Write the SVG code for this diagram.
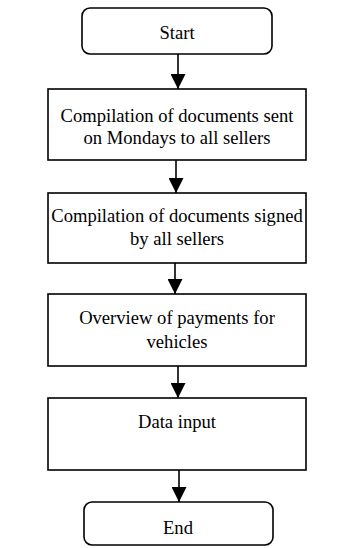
<svg xmlns="http://www.w3.org/2000/svg" width="339" height="548" viewBox="0 0 339 548">
  <style>
    .box { fill: #ffffff; stroke: #000000; stroke-width: 1.6; }
    .term { fill: #ffffff; stroke: #000000; stroke-width: 1.6; }
    .lbl { font-family: 'Liberation Serif', 'Times New Roman', 'DejaVu Serif', serif; font-size: 18.6px; fill: #000000; text-anchor: middle; }
    .edge { stroke: #000000; stroke-width: 1.6; fill: none; marker-end: url(#arrow); }
  </style>
  <defs>
    <marker id="arrow" viewBox="0 0 10 10" refX="10" refY="5" markerUnits="userSpaceOnUse" markerWidth="16" markerHeight="15" orient="auto">
      <path d="M0,0 L10,5 L0,10 Z" fill="#000000"/>
    </marker>
  </defs>
  <rect width="339" height="548" fill="#ffffff"/>

  <g id="connectors">
    <line class="edge" x1="178" y1="54" x2="178" y2="89"/>
    <line class="edge" x1="176" y1="160" x2="176" y2="193"/>
    <line class="edge" x1="175" y1="263" x2="175" y2="294"/>
    <line class="edge" x1="178" y1="366" x2="178" y2="398"/>
    <line class="edge" x1="179" y1="470" x2="179" y2="502"/>
  </g>

  <g id="start">
    <rect class="term" x="82" y="8" width="190" height="46" rx="8"/>
    <text class="lbl" x="177" y="39">Start</text>
  </g>

  <g id="compile-sent">
    <rect class="box" x="48" y="89" width="258" height="71"/>
    <text class="lbl" x="177" y="122">Compilation of documents sent</text>
    <text class="lbl" x="177" y="144">on Mondays to all sellers</text>
  </g>

  <g id="compile-signed">
    <rect class="box" x="48" y="193" width="258" height="70"/>
    <text class="lbl" x="177" y="222">Compilation of documents signed</text>
    <text class="lbl" x="177" y="245">by all sellers</text>
  </g>

  <g id="payments">
    <rect class="box" x="48" y="294" width="258" height="72"/>
    <text class="lbl" x="177" y="324">Overview of payments for</text>
    <text class="lbl" x="177" y="348">vehicles</text>
  </g>

  <g id="data-input">
    <rect class="box" x="48" y="398" width="258" height="72"/>
    <text class="lbl" x="177" y="428">Data input</text>
  </g>

  <g id="end">
    <rect class="term" x="84" y="502" width="189" height="43" rx="8"/>
    <text class="lbl" x="178" y="534">End</text>
  </g>
</svg>
